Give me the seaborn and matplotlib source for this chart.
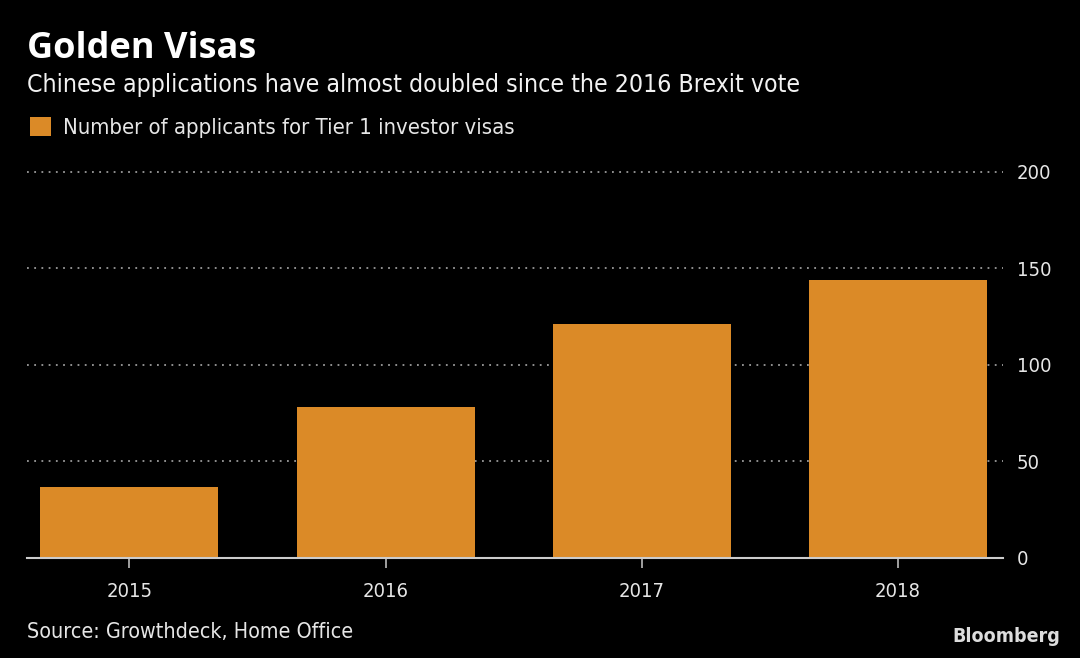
import pandas as pd
import seaborn as sns
import matplotlib.pyplot as plt

# Данные
years = ["2015", "2016", "2017", "2018"]
applicants = [37, 78, 121, 144]
y_ticks = [0, 50, 100, 150, 200]

BG = "#000000"
BAR = "#DB8A27"
TXT = "#E6E6E6"
GRID = "#9A9A9A"

sns.set_style("dark")
plt.rcParams["font.family"] = ["DejaVu Sans"]
plt.rcParams["font.stretch"] = "condensed"

df = pd.DataFrame({"year": years, "n": applicants})

fig = plt.figure(figsize=(10.8, 6.58), dpi=100, facecolor=BG)
ax = fig.add_axes([0.025, 0.152, 0.9037, 0.5897])
ax.set_facecolor(BG)

sns.barplot(data=df, x="year", y="n", color=BAR, saturation=1, width=0.695,
            edgecolor="none", linewidth=0,
            label="Number of applicants for Tier 1 investor visas", ax=ax, zorder=2)

ax.set_xlim(-0.40, 3.41)
ax.set_ylim(0, 201)
ax.set_yticks(y_ticks)
ax.yaxis.tick_right()
ax.tick_params(axis="y", length=0, pad=10, labelsize=14.5, labelcolor=TXT)
ax.tick_params(axis="x", bottom=True, length=7, width=1.2, color="#BBBBBB", pad=10,
               labelsize=14.5, labelcolor=TXT)
ax.grid(axis="y", color=GRID, linestyle=(0, (1, 3)), linewidth=1.3, zorder=0)
ax.grid(axis="x", visible=False)
for s in ["top", "left", "right"]:
    ax.spines[s].set_visible(False)
ax.spines["bottom"].set_color("#CCCCCC")
ax.spines["bottom"].set_linewidth(1.5)
ax.set_xlabel("")
ax.set_ylabel("")

leg = ax.legend(loc="upper left", bbox_to_anchor=(0.02, 0.835), bbox_transform=fig.transFigure,
                frameon=False, fontsize=15.8, handlelength=0.95, handleheight=0.95,
                handletextpad=0.55, borderaxespad=0)
for t in leg.get_texts():
    t.set_color(TXT)

fig.text(0.025, 0.912, "Golden Visas", fontsize=26, fontweight="bold", color="white",
         family=["Open Sans", "DejaVu Sans"])
fig.text(0.025, 0.86, "Chinese applications have almost doubled since the 2016 Brexit vote",
         fontsize=17.8, color="#F2F2F2")
fig.text(0.025, 0.03, "Source: Growthdeck, Home Office", fontsize=15.4, color=TXT)
fig.text(0.982, 0.025, "Bloomberg", fontsize=14, fontweight="bold", color="#DDDDDD",
         ha="right")

fig.savefig("out.png", dpi=100, facecolor=BG)
